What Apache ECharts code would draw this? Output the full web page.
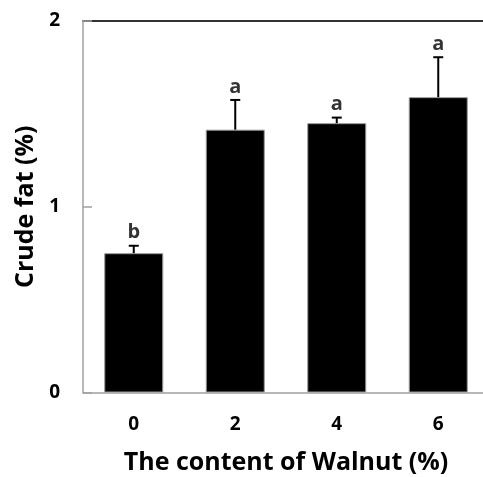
<!DOCTYPE html>
<html>
<head>
<meta charset="utf-8">
<script src="https://cdn.jsdelivr.net/npm/echarts@6/dist/echarts.min.js"></script>
<style>
  html, body { margin: 0; padding: 0; background: #fff; }
  #chart { width: 483px; height: 477px; }
</style>
</head>
<body>
<div id="chart"></div>
<script>
// Walnut content levels (%) on the x axis
const categories = ['0', '2', '4', '6'];
// Mean crude fat content (%)
const means = [0.75, 1.415, 1.45, 1.59];
// Standard deviations drawn as upward error bars
const errors = [0.04, 0.16, 0.03, 0.215];
// Significance letters shown above each bar
const letters = ['b', 'a', 'a', 'a'];
// Y axis range and step
const yMin = 0, yMax = 2, yStep = 1;

const FONT = '"Open Sans", sans-serif';
const chart = echarts.init(document.getElementById('chart'), null, { renderer: 'canvas' });

const errData = categories.map((c, i) => [i, means[i], means[i] + errors[i]]);
const labelData = categories.map((c, i) => [i, means[i] + errors[i]]);

chart.setOption({
  animation: false,
  backgroundColor: '#fff',
  grid: { left: 83, top: 21, width: 406, bottom: 84.5, containLabel: false, outerBoundsMode: 'none' },
  xAxis: [{
    type: 'category',
    data: categories,
    name: 'The content of Walnut (%)',
    nameLocation: 'middle',
    nameGap: 58,
    nameTextStyle: { fontFamily: FONT, fontWeight: 'bold', fontSize: 25, color: '#000' },
    axisLine: { lineStyle: { color: '#a0a0a0', width: 1.5 } },
    axisTick: { inside: true, alignWithLabel: true, length: 5, lineStyle: { color: '#a0a0a0', width: 1.5 } },
    axisLabel: { fontFamily: FONT, fontWeight: 'bold', fontSize: 19, color: '#000', margin: 23 },
    z: 5
  }, {
    // dark frame line along the top of the plot
    type: 'category',
    data: categories,
    position: 'top',
    axisLine: { lineStyle: { color: '#333', width: 2 } },
    axisTick: { show: false },
    axisLabel: { show: false }
  }],
  yAxis: {
    type: 'value',
    min: yMin, max: yMax, interval: yStep,
    name: 'Crude fat (%)',
    nameLocation: 'middle',
    nameGap: 37,
    nameRotate: 90,
    nameTextStyle: { fontFamily: FONT, fontWeight: 'bold', fontSize: 25, color: '#000' },
    axisLine: { show: true, lineStyle: { color: '#a0a0a0', width: 1.5 } },
    axisTick: { show: true, inside: true, length: 9, lineStyle: { color: '#a0a0a0', width: 1.5 } },
    axisLabel: { fontFamily: FONT, fontWeight: 'bold', fontSize: 19, color: '#000', margin: 23 },
    splitLine: { show: false },
    z: 6
  },
  series: [{
    type: 'bar',
    data: means,
    barWidth: 59,
    itemStyle: { color: '#000', borderColor: '#999', borderWidth: 1 },
    z: 2
  }, {
    type: 'custom',
    data: errData,
    renderItem: function (params, api) {
      const base = api.coord([api.value(0), api.value(1)]);
      const top = api.coord([api.value(0), api.value(2)]);
      const half = 5;
      const style = { stroke: '#000', lineWidth: 2 };
      return {
        type: 'group',
        children: [
          { type: 'line', shape: { x1: base[0], y1: base[1], x2: top[0], y2: top[1] }, style },
          { type: 'line', shape: { x1: top[0] - half, y1: top[1], x2: top[0] + half, y2: top[1] }, style }
        ]
      };
    },
    z: 3
  }, {
    type: 'scatter',
    data: labelData,
    symbolSize: 0,
    label: {
      show: true,
      position: 'top',
      distance: 3,
      formatter: p => letters[p.dataIndex],
      fontFamily: FONT, fontWeight: 'bold', fontSize: 20, color: '#000'
    },
    z: 4
  }]
});
</script>
</body>
</html>
